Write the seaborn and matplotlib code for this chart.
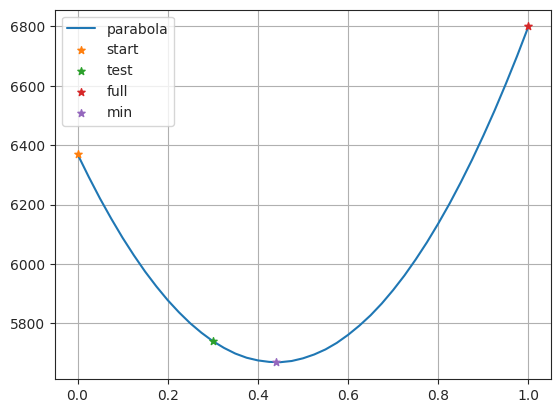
import numpy as np
import pandas as pd
import matplotlib
matplotlib.use('Agg')
import matplotlib.pyplot as plt
import seaborn as sns

# curve values
curve_x = [0.0, 0.025, 0.05, 0.075, 0.1, 0.125, 0.15, 0.175, 0.2, 0.225,
           0.25, 0.275, 0.3, 0.325, 0.35, 0.375, 0.4, 0.425, 0.45, 0.475,
           0.5, 0.525, 0.55, 0.575, 0.6, 0.625, 0.65, 0.675, 0.7, 0.725,
           0.75, 0.775, 0.8, 0.825, 0.85, 0.875, 0.9, 0.925, 0.95, 0.975, 1.0]
curve_y = [6370, 6293, 6220, 6152, 6088, 6029, 5974, 5924, 5878, 5837,
           5800, 5768, 5740, 5717, 5698, 5684, 5675, 5670, 5669, 5673,
           5682, 5695, 5712, 5734, 5761, 5792, 5827, 5867, 5912, 5961,
           6015, 6073, 6136, 6203, 6275, 6351, 6432, 6517, 6607, 6701, 6800]

point_names = ['start', 'test', 'full', 'min']
point_x = [0.0, 0.3, 1.0, 0.44]
point_y = [6370, 5740, 6800, 5668]

sns.set_style('ticks')
plt.rcParams['font.family'] = ['DejaVu Sans']
colors = sns.color_palette('tab10')

fig, ax = plt.subplots(figsize=(6.4, 4.8), dpi=100)
df = pd.DataFrame({'x': curve_x, 'y': curve_y})
sns.lineplot(data=df, x='x', y='y', ax=ax, color=colors[0], label='parabola', linewidth=1.5)

for i, name in enumerate(point_names):
    c = colors[i + 1]
    sns.scatterplot(x=[point_x[i]], y=[point_y[i]], ax=ax, marker='*', s=30,
                    color=c, edgecolor=c, linewidth=1, label=name, zorder=3)

ax.set_xlabel('')
ax.set_ylabel('')
ax.grid(True, color='#b0b0b0', linewidth=0.8)
ax.legend(loc='upper left')
plt.savefig('out.png', bbox_inches='tight')
